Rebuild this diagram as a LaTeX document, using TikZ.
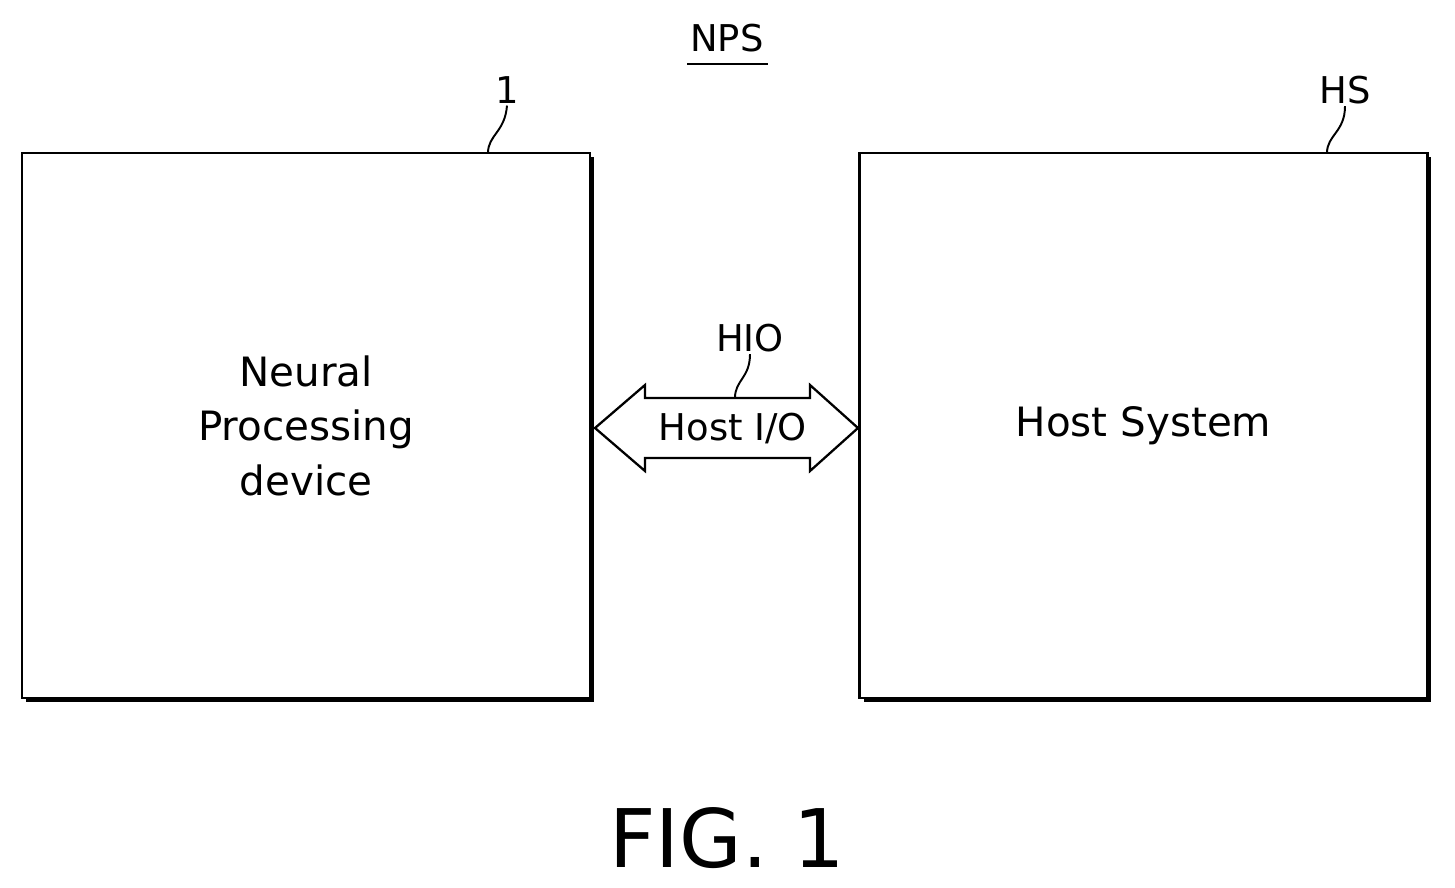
\documentclass[tikz,border=0pt]{standalone}
\usepackage{fontspec}
\setmainfont{DejaVu Sans}
\usetikzlibrary{positioning}
\tikzset{
  block/.style={draw,line width=1.3pt,minimum width=11.36cm,minimum height=10.9cm,
    font=\fontsize{23}{29}\selectfont,align=center,inner sep=0pt},
  shade/.style={fill=black,draw=none},
  tag/.style={font=\fontsize{21}{25}\selectfont,inner sep=1pt},
  leader/.style={line width=1.1pt}
}
\begin{document}
\begin{tikzpicture}[x=0.02cm,y=-0.02cm]
\useasboundingbox (0,0) rectangle (1455,887);
% blocks with slight drop shadow
\fill[shade] (26,157) rectangle (594,702);
\fill[shade] (864,157) rectangle (1431,702);
\node[block,fill=white] (npd) at (306,425.5) {};
\node[block,fill=white] (hs) at (1143.5,425.5) {};
\node[font=\fontsize{23}{31}\selectfont,align=center] at (npd) {Neural\\Processing\\device};
\node[font=\fontsize{23}{29}\selectfont] at (hs) {Host System};
% host i/o arrow
\draw[line width=1.3pt,fill=white] (595,428) -- (645,385) -- (645,398) -- (810,398) -- (810,385)
  -- (858,428) -- (810,471) -- (810,458) -- (645,458) -- (645,471) -- cycle;
\node[font=\fontsize{21}{25}\selectfont] (hio) at (733,429) {Host I/O};
% reference labels
\node[tag] (nps) at (727,38) {NPS};
\draw[line width=1.1pt] (687,64) -- (768,64);
\node[tag] (one) at (507,90) {1};
\node[tag] (hsl) at (1345,90) {HS};
\node[tag] (hiol) at (750,338) {HIO};
\coordinate (c1) at (488,153);
\coordinate (c2) at (1327,153);
\coordinate (c3) at (735,398);
\draw[leader] (c1) .. controls (488,135) and (505,132) .. (one.south);
\draw[leader] (c2) .. controls (1327,135) and (1345,132) .. (hsl.south);
\draw[leader] (c3) .. controls (735,380) and (750,378) .. (hiol.south);
% figure caption
\node[font=\fontsize{46}{50}\selectfont] (fig) at (727,838) {FIG. 1};
\end{tikzpicture}
\end{document}
